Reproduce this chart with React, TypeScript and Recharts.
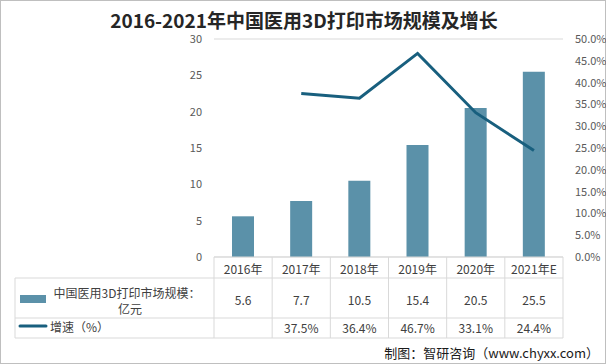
import React from "react";
import { ComposedChart, Bar, Line, XAxis, YAxis, CartesianGrid } from "recharts";

const years = ["2016年", "2017年", "2018年", "2019年", "2020年", "2021年E"];
const marketSize = [5.6, 7.7, 10.5, 15.4, 20.5, 25.5];
const growth: (number | null)[] = [null, 37.5, 36.4, 46.7, 33.1, 24.4];
const leftTicks = [0, 5, 10, 15, 20, 25, 30];
const rightTicks = [0, 5, 10, 15, 20, 25, 30, 35, 40, 45, 50];

const data = years.map((year, i) => ({ year, size: marketSize[i], growth: growth[i] }));

const W = 606;
const H = 364;
const PLOT_LEFT = 214;
const PLOT_RIGHT = 563;
const PLOT_TOP = 39;
const AXIS_Y = 257;
const ROW1 = 278;
const ROW2 = 318;
const TABLE_BOTTOM = 338;
const TABLE_LEFT = 15;
const COL_W = (PLOT_RIGHT - PLOT_LEFT) / years.length;

const BAR_COLOR = "#5b91a9";
const LINE_COLOR = "#185f7e";
const GRID = "#d9d9d9";
const TEXT = "#404040";
const FONT = "'Microsoft YaHei', 'Noto Sans CJK SC', sans-serif";

// draws one column of the data table under the x axis
function TableTick(props: any) {
  const { x, index } = props;
  const half = COL_W / 2;
  const last = index === years.length - 1;
  const g = growth[index];
  return (
    <g fontFamily={FONT} fontSize={12} fill={TEXT}>
      {index === 0 && (
        <g>
          <line x1={TABLE_LEFT} x2={PLOT_RIGHT} y1={ROW1} y2={ROW1} stroke={GRID} />
          <line x1={TABLE_LEFT} x2={PLOT_RIGHT} y1={ROW2} y2={ROW2} stroke={GRID} />
          <line x1={TABLE_LEFT} x2={PLOT_RIGHT} y1={TABLE_BOTTOM} y2={TABLE_BOTTOM} stroke={GRID} />
          <line x1={TABLE_LEFT} x2={TABLE_LEFT} y1={ROW1} y2={TABLE_BOTTOM} stroke={GRID} />
          <rect x={20} y={295} width={26} height={8} fill={BAR_COLOR} />
          <text x={127} y={292} textAnchor="middle" dominantBaseline="central">
            中国医用3D打印市场规模：
          </text>
          <text x={130} y={308} textAnchor="middle" dominantBaseline="central">
            亿元
          </text>
          <line x1={20} x2={46} y1={326} y2={326} stroke={LINE_COLOR} strokeWidth={3} strokeLinecap="round" />
          <text x={50} y={326} dominantBaseline="central">
            增速（%）
          </text>
        </g>
      )}
      <line x1={x - half} x2={x - half} y1={AXIS_Y} y2={TABLE_BOTTOM} stroke={GRID} />
      {last && <line x1={x + half} x2={x + half} y1={AXIS_Y} y2={TABLE_BOTTOM} stroke={GRID} />}
      <text x={x} y={268} textAnchor="middle" dominantBaseline="central">
        {years[index]}
      </text>
      <text x={x} y={299} textAnchor="middle" dominantBaseline="central">
        {marketSize[index]}
      </text>
      {g != null && (
        <text x={x} y={327} textAnchor="middle" dominantBaseline="central">
          {g.toFixed(1)}%
        </text>
      )}
    </g>
  );
}

export default function App() {
  return (
    <div
      style={{
        position: "absolute",
        left: 0,
        top: 0,
        width: W,
        height: H,
        boxSizing: "border-box",
        border: "1px solid #bfbfbf",
        background: "#fff",
        fontFamily: FONT,
      }}
    >
      <div
        style={{
          position: "absolute",
          left: 0,
          top: 9,
          width: W,
          textAlign: "center",
          fontSize: 19,
          fontWeight: 700,
          color: "#262626",
          lineHeight: "20px",
        }}
      >
        2016-2021年中国医用3D打印市场规模及增长
      </div>
      <div style={{ position: "absolute", left: -1, top: -1 }}>
        <ComposedChart
          width={W}
          height={H}
          data={data}
          margin={{ top: PLOT_TOP, left: PLOT_LEFT - 40, right: 0, bottom: H - TABLE_BOTTOM }}
          barSize={22}
        >
          <CartesianGrid vertical={false} stroke={GRID} />
          <XAxis
            dataKey="year"
            height={TABLE_BOTTOM - AXIS_Y}
            tickLine={false}
            axisLine={{ stroke: GRID }}
            tick={<TableTick />}
            interval={0}
          />
          <YAxis
            yAxisId="left"
            width={40}
            domain={[0, 30]}
            ticks={leftTicks}
            axisLine={false}
            tickLine={false}
            tickMargin={6}
            tick={{ fill: "#595959", fontSize: 11, fontFamily: FONT }}
          />
          <YAxis
            yAxisId="right"
            orientation="right"
            width={W - PLOT_RIGHT}
            domain={[0, 50]}
            ticks={rightTicks}
            axisLine={false}
            tickLine={false}
            tickMargin={6}
            tickFormatter={(v: number) => `${v.toFixed(1)}%`}
            tick={{ fill: "#595959", fontSize: 11, fontFamily: FONT, textAnchor: "start" }}
          />
          <Bar yAxisId="left" dataKey="size" fill={BAR_COLOR} isAnimationActive={false} />
          <Line
            yAxisId="right"
            dataKey="growth"
            type="linear"
            stroke={LINE_COLOR}
            strokeWidth={3}
            dot={false}
            activeDot={false}
            connectNulls={false}
            isAnimationActive={false}
          />
        </ComposedChart>
      </div>
      <div
        style={{
          position: "absolute",
          right: 6,
          top: 343,
          fontSize: 13,
          color: "#1a1a1a",
          lineHeight: "18px",
          whiteSpace: "nowrap",
        }}
      >
        制图：智研咨询（www.chyxx.com）
      </div>
    </div>
  );
}
